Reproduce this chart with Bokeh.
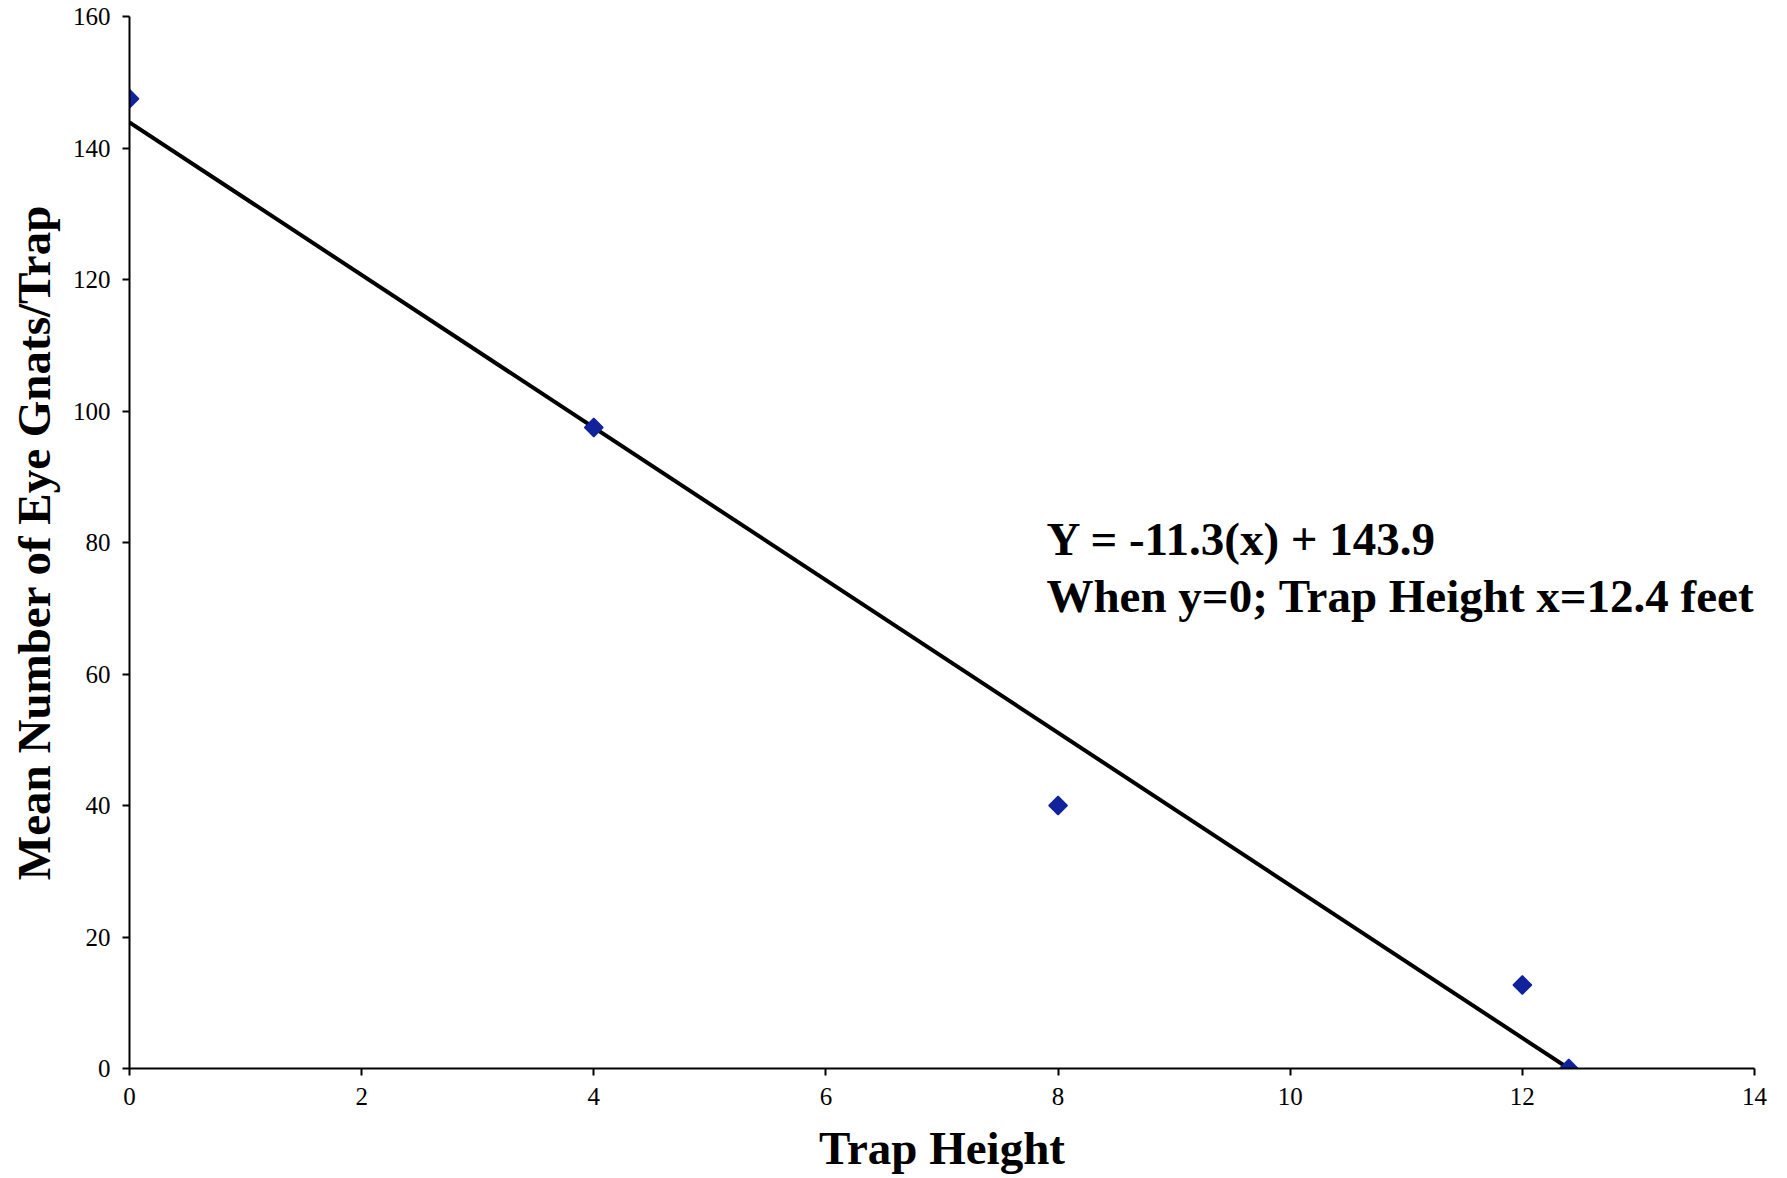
import numpy as np
from bokeh.plotting import figure
from bokeh.models import Range1d, FixedTicker, Label
from bokeh.embed import file_html
from bokeh.resources import INLINE

# Data
trap_height = [0, 4, 8, 12, 12.4]
mean_gnats = [147.5, 97.5, 40.0, 12.7, 0.0]
fit_x = [0, 12.4]
fit_y = [143.9, 0.0]
x_ticks = [0, 2, 4, 6, 8, 10, 12, 14]
y_ticks = [0, 20, 40, 60, 80, 100, 120, 140, 160]
annotation_lines = ["Y = -11.3(x) + 143.9", "When y=0; Trap Height x=12.4 feet"]

FONT = "Liberation Serif"

p = figure(width=1779, height=1176, output_backend="svg", toolbar_location=None,
           x_range=Range1d(0, 14), y_range=Range1d(0, 160),
           min_border_left=129, min_border_top=16, min_border_right=25, min_border_bottom=106)
p.outline_line_color = None
p.grid.visible = False
p.background_fill_color = "white"

p.line(fit_x, fit_y, line_color="black", line_width=4)
p.scatter(trap_height, mean_gnats, marker="square", angle=np.pi / 4, size=13,
          fill_color="#10239c", line_color="#10239c", line_width=1.5)

for ax in (p.xaxis, p.yaxis):
    ax.axis_line_color = "black"
    ax.axis_line_width = 2
    ax.major_tick_line_width = 2
    ax.major_tick_in = 0
    ax.major_tick_out = 7
    ax.minor_tick_line_color = None
    ax.major_label_text_font = FONT
    ax.major_label_text_font_size = "25px"
    ax.major_label_text_color = "black"
    ax.axis_label_text_font = FONT
    ax.axis_label_text_font_style = "bold"
    ax.axis_label_text_font_size = "47px"
    ax.axis_label_text_color = "black"
    ax.major_label_standoff = 12

p.yaxis.axis_label_standoff = 10
p.xaxis.axis_label_standoff = 14

p.xaxis.ticker = FixedTicker(ticks=x_ticks)
p.yaxis.ticker = FixedTicker(ticks=y_ticks)
p.xaxis.axis_label = "Trap Height"
p.yaxis.axis_label = "Mean Number of Eye Gnats/Trap"

p.add_layout(Label(x=7.9, y=80.5, text=annotation_lines[0], text_font=FONT,
                   text_font_style="bold", text_font_size="47px", text_color="black",
                   text_baseline="alphabetic"))
p.add_layout(Label(x=7.9, y=71.8, text=annotation_lines[1], text_font=FONT,
                   text_font_style="bold", text_font_size="47px", text_color="black",
                   text_baseline="alphabetic"))

open("out.html", "w").write(file_html(p, INLINE))
